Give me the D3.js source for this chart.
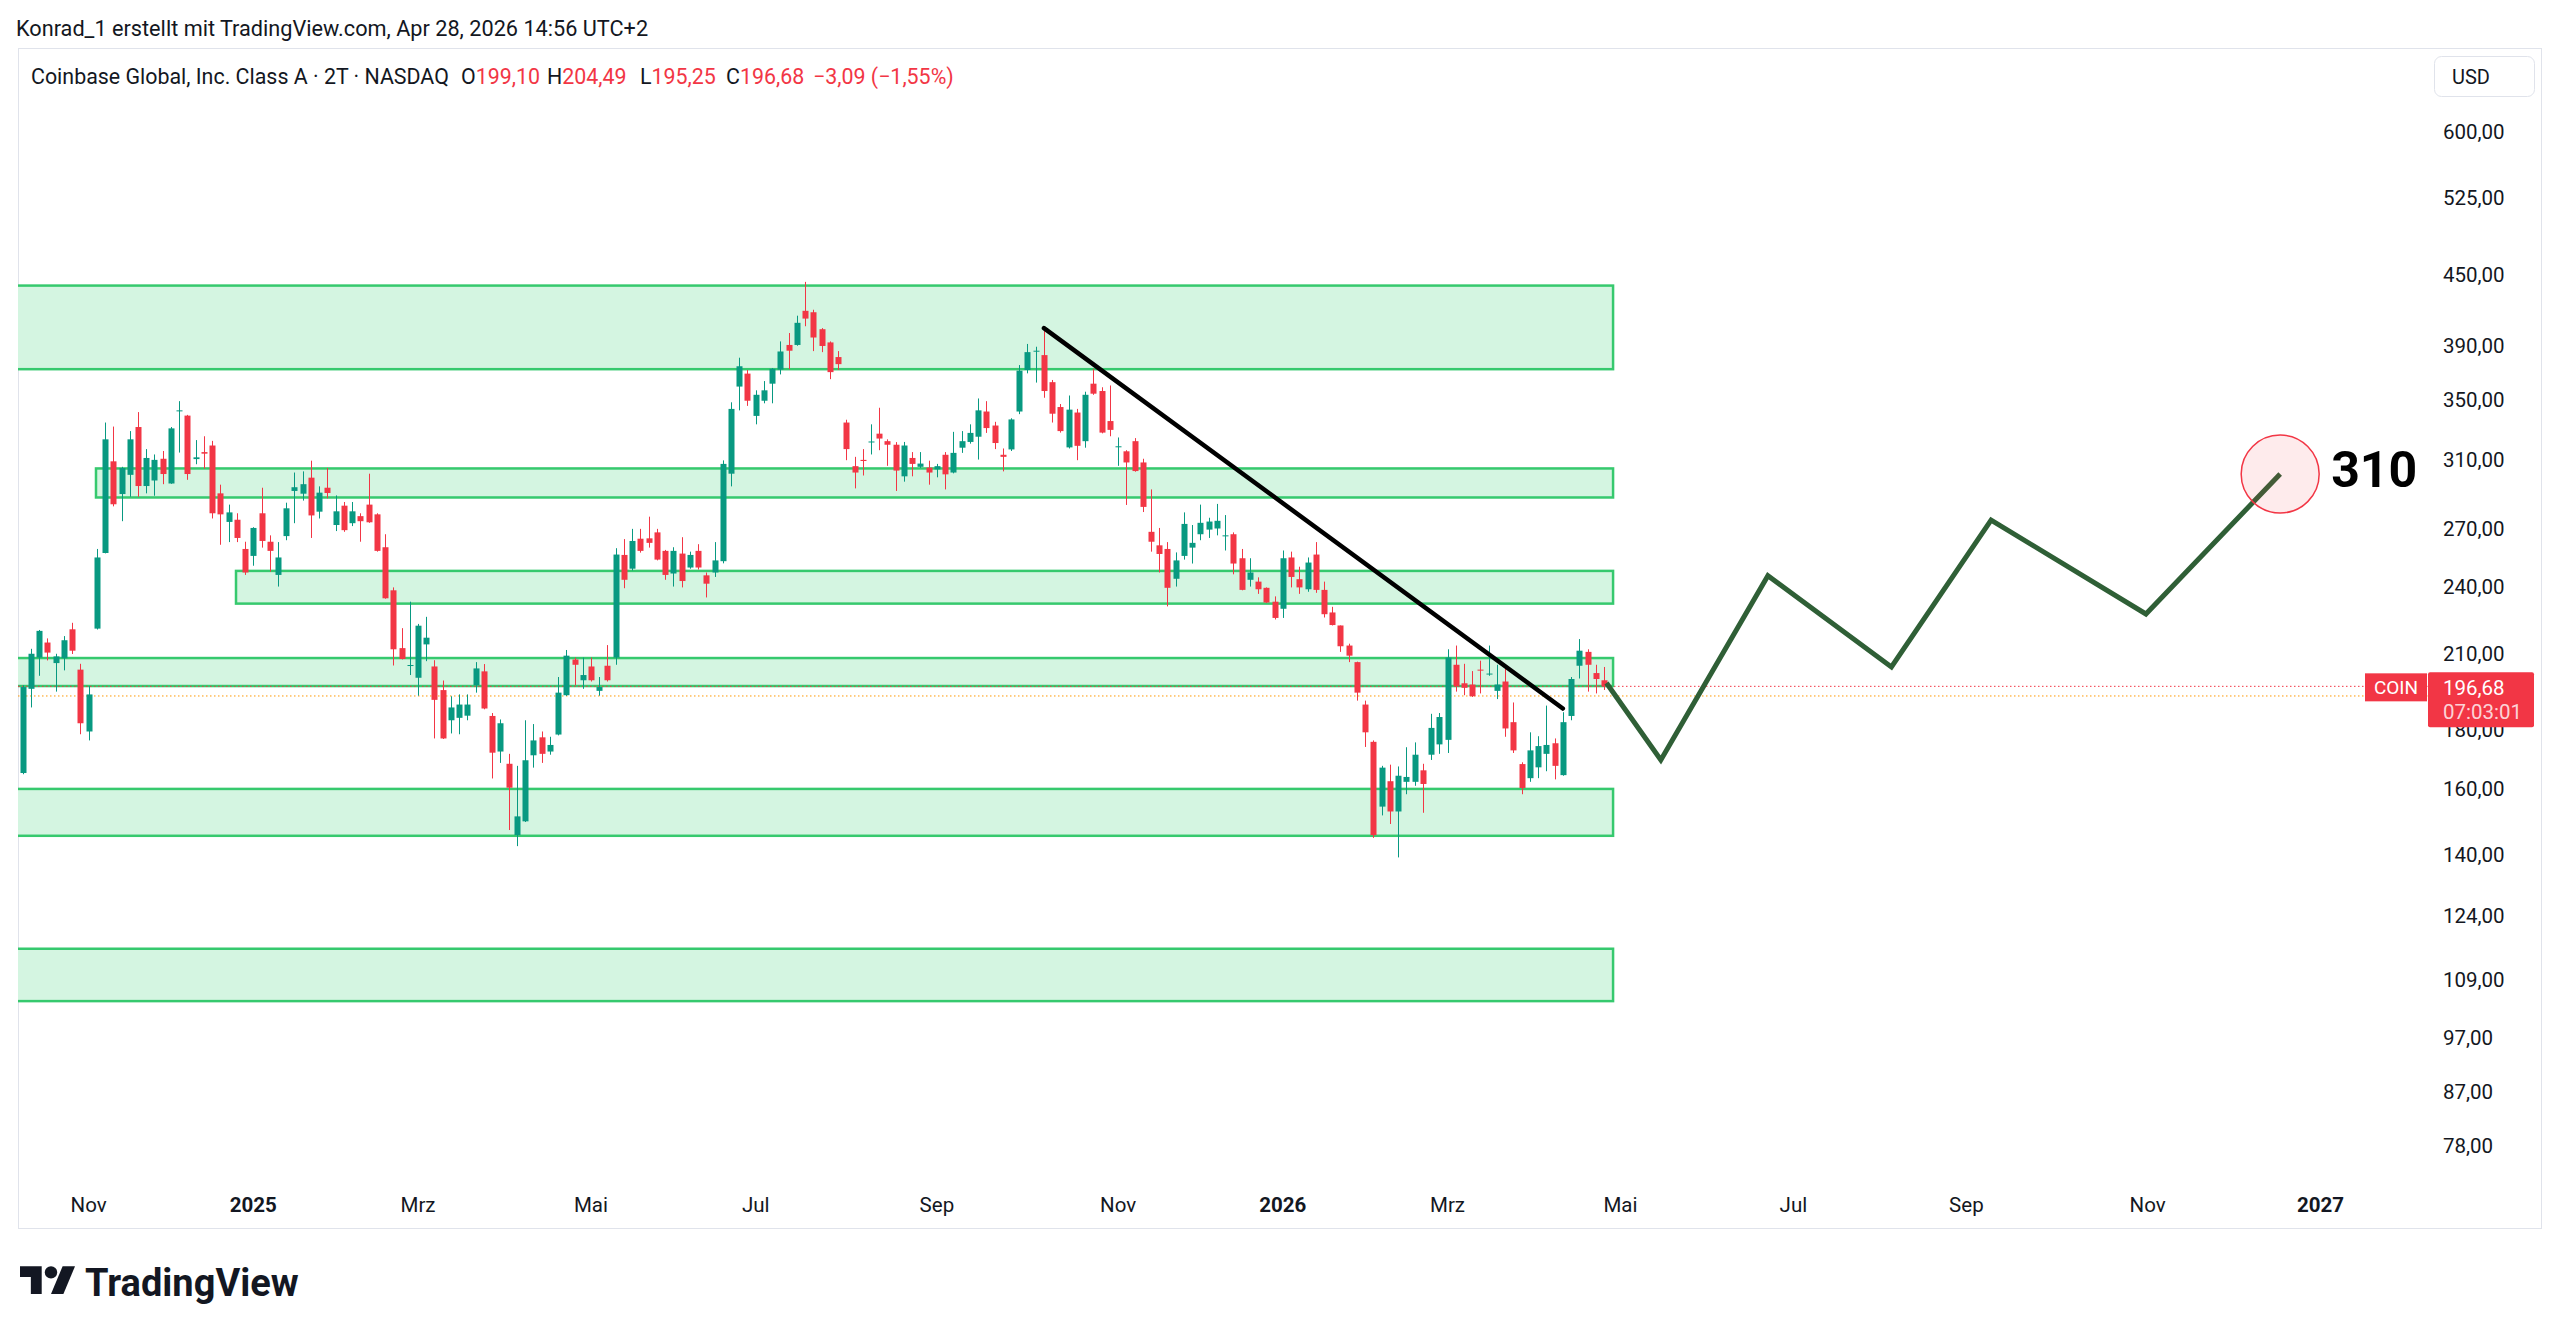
<!DOCTYPE html>
<html>
<head>
<meta charset="utf-8">
<script src="https://cdn.jsdelivr.net/npm/d3@7"></script>
<style>
  html, body { margin: 0; padding: 0; background: #ffffff; }
  svg { display: block; font-family: Roboto, 'Noto Sans', sans-serif; }
</style>
</head>
<body>
<svg id="chart" width="2560" height="1335"></svg>
<script>
/* global d3 */
'use strict';

// COIN, 2-day bars (index 0 = first visible bar)
const opens = [
  165.2, 195.7, 208.4, 214.8, 206.1, 208.1, 220.6, 203.4, 179.6, 220.9,
  257.2, 309.3, 289.6, 301.0, 331.4, 294.3, 297.6, 310.9, 295.8, 342.2,
  339.1, 310.7, 315.1, 319.3, 290.0, 273.8, 275.0, 259.3, 255.7, 278.6,
  263.1, 246.1, 266.1, 291.4, 289.8, 299.3, 279.5, 293.3, 272.1, 282.9,
  273.1, 277.0, 283.5, 278.0, 260.2, 238.6, 212.4, 205.0, 200.1, 214.0,
  204.7, 195.2, 183.7, 184.6, 185.4, 197.1, 202.7, 185.3, 172.5, 168.3,
  145.8, 149.9, 171.2, 177.5, 172.5, 178.5, 193.2, 207.6, 199.1, 204.7,
  194.9, 205.0, 208.4, 256.2, 249.2, 264.7, 264.9, 268.1, 258.3, 246.8,
  256.9, 249.8, 258.3, 245.9, 247.3, 253.0, 301.7, 359.5, 369.0, 338.9,
  349.4, 361.6, 372.0, 390.9, 390.9, 418.7, 417.5, 403.5, 392.9, 381.5,
  334.4, 306.3, 310.2, 321.5, 327.0, 322.1, 319.8, 300.1, 311.4, 305.9,
  305.4, 304.3, 313.4, 302.4, 317.9, 321.6, 325.0, 341.9, 332.4, 313.4,
  316.8, 341.9, 371.7, 385.8, 383.0, 362.7, 345.0, 318.1, 341.2, 322.1,
  361.6, 356.3, 335.4, 318.4, 315.6, 322.1, 308.6, 268.4, 261.2, 259.3,
  244.2, 255.7, 260.0, 267.1, 269.6, 270.2, 266.1, 267.1, 254.5, 243.7,
  242.8, 239.8, 233.2, 229.9, 254.9, 244.0, 239.1, 256.4, 238.8, 228.2,
  222.3, 213.5, 206.5, 189.6, 175.9, 154.4, 162.5, 152.9, 162.3, 162.3,
  166.1, 171.4, 175.0, 176.6, 205.4, 197.9, 197.4, 203.4, 201.5, 194.9,
  198.6, 183.0, 168.2, 163.5, 167.1, 171.7, 175.4, 164.5, 185.3, 205.0,
  210.8, 202.0, 199.10
];
const highs = [
  197.1, 212.1, 220.3, 216.6, 210.0, 217.6, 223.5, 205.8, 196.8, 259.3,
  334.4, 331.7, 305.9, 328.7, 341.5, 317.0, 313.6, 315.8, 331.4, 349.1,
  339.6, 322.8, 325.3, 322.3, 295.1, 283.5, 278.6, 263.1, 270.9, 293.3,
  266.5, 262.9, 284.6, 302.4, 303.1, 309.7, 294.1, 305.2, 288.8, 285.0,
  285.0, 278.6, 301.7, 278.6, 267.1, 240.0, 221.1, 233.2, 223.0, 226.2,
  207.3, 199.0, 192.8, 193.5, 193.5, 206.5, 205.7, 186.4, 184.0, 171.7,
  167.6, 183.7, 182.3, 179.6, 177.7, 200.4, 211.6, 208.4, 208.4, 208.4,
  200.4, 213.7, 259.7, 264.5, 270.0, 270.0, 276.7, 270.0, 258.8, 260.2,
  265.5, 257.9, 261.8, 247.3, 262.9, 309.9, 348.3, 381.0, 371.7, 356.8,
  363.5, 373.2, 393.7, 400.4, 414.6, 443.8, 419.6, 404.4, 393.7, 386.1,
  336.3, 312.1, 317.0, 333.2, 344.5, 323.3, 321.5, 321.6, 315.1, 315.1,
  309.7, 307.7, 315.1, 328.2, 328.7, 333.2, 351.0, 349.1, 334.9, 317.4,
  337.3, 375.4, 391.7, 389.5, 404.4, 364.3, 347.1, 353.1, 343.7, 355.8,
  372.6, 359.0, 360.3, 324.5, 316.3, 324.1, 310.9, 292.3, 270.5, 262.9,
  257.5, 279.1, 272.1, 283.5, 276.1, 283.9, 277.6, 268.1, 259.3, 254.5,
  244.9, 240.0, 235.7, 258.5, 257.9, 250.2, 254.9, 262.9, 242.8, 230.8,
  222.3, 214.3, 206.7, 191.1, 176.4, 167.6, 168.0, 167.4, 174.0, 175.7,
  168.3, 186.1, 186.4, 211.9, 213.5, 205.8, 202.8, 207.1, 213.5, 205.4,
  204.2, 190.4, 168.8, 179.3, 177.9, 189.2, 177.1, 186.7, 200.4, 216.3,
  211.9, 205.4, 204.49
];
const lows = [
  164.8, 188.5, 200.9, 207.2, 194.6, 203.1, 209.9, 178.6, 176.4, 220.5,
  257.0, 282.5, 274.2, 288.0, 288.0, 290.0, 288.6, 295.4, 295.6, 314.8,
  298.0, 307.5, 304.7, 275.7, 261.5, 262.9, 262.9, 246.1, 250.7, 260.0,
  247.7, 240.4, 263.9, 273.1, 285.8, 265.1, 275.7, 287.1, 268.8, 268.4,
  271.5, 263.1, 273.3, 257.9, 234.6, 205.1, 207.6, 201.2, 193.0, 206.9,
  177.1, 176.9, 178.9, 178.6, 183.7, 194.2, 187.8, 163.4, 168.6, 147.3,
  142.6, 149.7, 167.0, 168.6, 171.4, 178.2, 192.9, 197.1, 195.7, 198.6,
  193.0, 198.6, 205.4, 239.6, 248.3, 257.4, 260.0, 253.4, 243.7, 240.4,
  240.0, 249.2, 248.8, 235.2, 245.1, 251.9, 294.1, 342.7, 345.8, 333.2,
  347.6, 347.6, 368.4, 372.3, 390.3, 405.9, 386.1, 385.3, 364.9, 371.7,
  310.0, 292.9, 300.6, 313.6, 316.3, 306.5, 291.4, 296.9, 300.1, 305.2,
  295.1, 299.5, 292.3, 301.9, 314.6, 320.5, 310.4, 327.5, 317.0, 303.1,
  315.8, 340.1, 369.2, 362.4, 351.5, 334.4, 327.7, 317.4, 310.0, 317.9,
  353.6, 327.2, 325.3, 306.5, 283.3, 302.9, 279.3, 257.9, 247.3, 231.0,
  240.4, 253.8, 251.8, 263.9, 265.1, 266.5, 258.5, 246.4, 238.6, 240.4,
  236.9, 232.6, 225.0, 225.7, 240.0, 236.9, 237.9, 237.4, 225.9, 222.3,
  210.8, 206.5, 191.1, 174.1, 145.0, 151.7, 149.1, 139.4, 158.3, 161.0,
  152.5, 169.6, 171.7, 172.0, 194.6, 193.2, 192.5, 193.9, 200.9, 191.7,
  177.7, 172.0, 158.3, 162.3, 163.5, 165.8, 163.1, 164.3, 183.7, 199.8,
  194.6, 193.9, 195.25
];
const closes = [
  196.4, 210.0, 219.9, 210.5, 208.9, 215.8, 211.3, 182.6, 193.5, 254.9,
  323.3, 283.7, 305.2, 323.3, 294.3, 311.4, 310.2, 301.5, 330.5, 342.7,
  301.5, 311.8, 314.1, 278.6, 278.0, 279.1, 265.1, 247.3, 270.5, 263.5,
  258.3, 254.9, 281.4, 293.6, 295.4, 277.4, 290.4, 290.2, 279.7, 269.3,
  279.7, 274.2, 273.6, 258.3, 234.8, 211.9, 207.8, 205.3, 222.2, 216.9,
  191.4, 177.1, 188.5, 189.6, 189.6, 203.9, 188.1, 172.1, 182.6, 160.4,
  151.4, 169.5, 176.4, 171.7, 174.8, 194.2, 209.2, 205.4, 201.2, 199.1,
  196.4, 199.1, 256.4, 243.7, 263.5, 258.3, 262.5, 253.8, 246.1, 258.3,
  243.1, 256.2, 249.8, 241.8, 253.4, 307.7, 343.7, 374.5, 349.4, 353.6,
  356.8, 372.6, 385.8, 386.4, 408.7, 412.2, 396.8, 390.1, 370.1, 376.1,
  317.0, 302.4, 309.5, 321.9, 323.8, 319.8, 303.6, 319.3, 307.7, 307.9,
  302.4, 306.3, 301.3, 314.6, 322.1, 327.5, 342.7, 330.7, 320.9, 312.1,
  336.5, 371.2, 385.3, 386.4, 356.3, 340.4, 328.7, 343.2, 319.1, 353.6,
  354.4, 327.7, 329.5, 318.8, 308.6, 303.3, 282.2, 263.1, 256.7, 239.8,
  253.4, 272.7, 262.5, 273.3, 274.0, 274.4, 266.5, 251.8, 238.8, 247.3,
  239.1, 232.8, 225.7, 254.5, 245.1, 240.0, 252.3, 238.8, 227.4, 222.5,
  213.2, 209.2, 194.2, 179.3, 145.8, 167.0, 152.9, 164.3, 163.9, 171.4,
  161.6, 180.9, 184.9, 208.4, 196.8, 196.1, 192.8, 203.0, 201.8, 197.4,
  180.7, 172.9, 160.3, 172.9, 174.4, 174.8, 167.6, 183.0, 199.6, 211.3,
  205.4, 199.6, 196.68
];

// price scale labels
const priceTicks = [600, 525, 450, 390, 350, 310, 270, 240, 210, 180, 160, 140, 124, 109, 97, 87, 78];

// time scale: bar index where each label sits
const monthTickBars = [8, 28, 48, 69, 89, 111, 133, 153, 173, 194, 215, 236, 258, 279];
const monthTickLabels = ['Nov', '2025', 'Mrz', 'Mai', 'Jul', 'Sep', 'Nov', '2026', 'Mrz', 'Mai', 'Jul', 'Sep', 'Nov', '2027'];

// support / resistance boxes (bar index from-to, price low-high)
const zoneFrom = [-10, 8.9, 25.9, -10, -10, -10];
const zoneTo = [193.1, 193.1, 193.1, 193.1, 193.1, 193.1];
const zoneLow = [372.3, 287.6, 232.3, 196.8, 145.6, 104.4];
const zoneHigh = [440.5, 304.9, 248.1, 208.2, 160.0, 116.0];

// falling trend line
const trendBars = [124, 187];
const trendPrices = [404.4, 188.1];

// hand-drawn projection path
const projBars = [192.3, 198.9, 211.9, 226.9, 239.0, 257.8, 274.1];
const projPrices = [198.0, 169.6, 245.7, 204.5, 274.8, 227.5, 301.5];
const targetLabel = '310';

// last price info
const lastPrice = 196.68;
const extPrice = 192.9;
const countdown = '07:03:01';
const changeText = '−3,09 (−1,55%)';

// ---------------------------------------------------------------
const green = '#089981';
const red = '#f23645';
const textColor = '#131722';
const fmt = (v) => d3.format('.2f')(v).replace('.', ',');

const svg = d3.select('#chart');
const pane = { left: 18, right: 2436, top: 49, bottom: 1175 };

// x and y scale
const xScale = d3.scaleLinear().domain([0, 192]).range([22.7, 1604]);
const yScale = d3.scaleLog().domain([600, 78]).range([132, 1146]);

svg.append('rect').attr('width', 2560).attr('height', 1335).attr('fill', '#ffffff');

// outer frame
svg.append('rect')
  .attr('x', 18.5).attr('y', 48.5)
  .attr('width', 2523).attr('height', 1180)
  .attr('fill', 'none')
  .attr('stroke', '#e0e3eb')
  .attr('stroke-width', 1);

svg.append('defs').append('clipPath').attr('id', 'pane-clip')
  .append('rect')
  .attr('x', pane.left).attr('y', pane.top)
  .attr('width', pane.right - pane.left).attr('height', pane.bottom - pane.top);

const g = svg.append('g').attr('clip-path', 'url(#pane-clip)');

// zones
g.selectAll('.zone')
  .data(zoneLow)
  .enter()
  .append('rect')
  .attr('class', 'zone')
  .attr('x', (d, i) => xScale(zoneFrom[i]))
  .attr('width', (d, i) => xScale(zoneTo[i]) - xScale(zoneFrom[i]))
  .attr('y', (d, i) => yScale(zoneHigh[i]))
  .attr('height', (d, i) => yScale(zoneLow[i]) - yScale(zoneHigh[i]))
  .attr('fill', '#d4f5e1')
  .attr('stroke', '#36c96e')
  .attr('stroke-width', 2.5);

// last price / extended price dotted lines
g.append('line')
  .attr('x1', pane.left).attr('x2', pane.right)
  .attr('y1', yScale(extPrice)).attr('y2', yScale(extPrice))
  .attr('stroke', '#ff9800')
  .attr('stroke-width', 1)
  .attr('stroke-dasharray', '1.5 2.5');
g.append('line')
  .attr('x1', pane.left).attr('x2', pane.right)
  .attr('y1', yScale(lastPrice)).attr('y2', yScale(lastPrice))
  .attr('stroke', red)
  .attr('stroke-width', 1)
  .attr('stroke-dasharray', '1.5 2.5');

// candles
const bars = d3.range(opens.length);
const candle = g.selectAll('.candle')
  .data(bars)
  .enter()
  .append('g')
  .attr('class', 'candle')
  .attr('fill', (i) => (closes[i] >= opens[i] ? green : red))
  .attr('stroke', (i) => (closes[i] >= opens[i] ? green : red));

candle.append('line')
  .attr('x1', (i) => Math.round(xScale(i)) + 0.5)
  .attr('x2', (i) => Math.round(xScale(i)) + 0.5)
  .attr('y1', (i) => yScale(highs[i]))
  .attr('y2', (i) => yScale(lows[i]))
  .attr('stroke-width', 1);

candle.append('rect')
  .attr('x', (i) => Math.round(xScale(i)) - 2.5)
  .attr('width', 6)
  .attr('y', (i) => yScale(Math.max(opens[i], closes[i])))
  .attr('height', (i) => Math.max(1, yScale(Math.min(opens[i], closes[i])) - yScale(Math.max(opens[i], closes[i]))))
  .attr('stroke', 'none');

// trend line
g.append('line')
  .attr('x1', xScale(trendBars[0])).attr('y1', yScale(trendPrices[0]))
  .attr('x2', xScale(trendBars[1])).attr('y2', yScale(trendPrices[1]))
  .attr('stroke', '#000000')
  .attr('stroke-width', 4.5)
  .attr('stroke-linecap', 'round');

// projection path
const line = d3.line()
  .x((d, i) => xScale(projBars[i]))
  .y((d) => yScale(d));

g.append('path')
  .attr('d', line(projPrices))
  .attr('fill', 'none')
  .attr('stroke', '#2f5f36')
  .attr('stroke-width', 5)
  .attr('stroke-linejoin', 'miter');

// target circle and label
const last = projPrices.length - 1;
g.append('circle')
  .attr('cx', xScale(projBars[last]))
  .attr('cy', yScale(projPrices[last]))
  .attr('r', 39)
  .attr('fill', 'rgba(242, 54, 69, 0.1)')
  .attr('stroke', red)
  .attr('stroke-width', 1.5);

g.append('text')
  .attr('x', xScale(projBars[last]) + 51)
  .attr('y', yScale(projPrices[last]) - 4)
  .attr('dominant-baseline', 'central')
  .attr('font-size', 50)
  .attr('font-weight', 700)
  .attr('fill', '#000000')
  .text(targetLabel);

// price axis
svg.append('g')
  .selectAll('text')
  .data(priceTicks)
  .enter()
  .append('text')
  .attr('x', 2443)
  .attr('y', (d) => yScale(d))
  .attr('dominant-baseline', 'central')
  .attr('font-size', 20.5)
  .attr('fill', textColor)
  .text((d) => fmt(d));

// USD button
svg.append('rect')
  .attr('x', 2434.5).attr('y', 56.5)
  .attr('width', 100).attr('height', 40).attr('rx', 7)
  .attr('fill', '#ffffff')
  .attr('stroke', '#e0e3eb');
svg.append('text')
  .attr('x', 2452).attr('y', 77)
  .attr('dominant-baseline', 'central')
  .attr('font-size', 20)
  .attr('fill', textColor)
  .text('USD');

// last price labels
const yLast = yScale(lastPrice);
svg.append('rect')
  .attr('x', 2365).attr('y', yLast - 13)
  .attr('width', 62).attr('height', 28)
  .attr('fill', red);
svg.append('text')
  .attr('x', 2396).attr('y', yLast + 1)
  .attr('text-anchor', 'middle')
  .attr('dominant-baseline', 'central')
  .attr('font-size', 19)
  .attr('fill', '#ffffff')
  .text('COIN');
svg.append('rect')
  .attr('x', 2428).attr('y', yLast - 14)
  .attr('width', 106).attr('height', 55).attr('rx', 2)
  .attr('fill', red);
svg.append('text')
  .attr('x', 2443).attr('y', yLast + 2)
  .attr('dominant-baseline', 'central')
  .attr('font-size', 20.5)
  .attr('fill', '#ffffff')
  .text(fmt(lastPrice));
svg.append('text')
  .attr('x', 2443).attr('y', yLast + 26)
  .attr('dominant-baseline', 'central')
  .attr('font-size', 20.5)
  .attr('fill', 'rgba(255,255,255,0.8)')
  .text(countdown);

// time axis
svg.append('g')
  .selectAll('text')
  .data(monthTickBars)
  .enter()
  .append('text')
  .attr('x', (d) => xScale(d))
  .attr('y', 1205)
  .attr('text-anchor', 'middle')
  .attr('dominant-baseline', 'central')
  .attr('font-size', 20.5)
  .attr('font-weight', (d, i) => (/^\d+$/.test(monthTickLabels[i]) ? 700 : 400))
  .attr('fill', textColor)
  .text((d, i) => monthTickLabels[i]);

// header
svg.append('text')
  .attr('x', 16).attr('y', 28)
  .attr('dominant-baseline', 'central')
  .attr('font-size', 21.7)
  .attr('fill', textColor)
  .text('Konrad_1 erstellt mit TradingView.com, Apr 28, 2026 14:56 UTC+2');

// legend
const legendY = 76;
const n = opens.length - 1;
const legendParts = [
  { x: 31, label: 'Coinbase Global, Inc. Class A · 2T · NASDAQ', value: '' },
  { x: 461, label: 'O', value: fmt(opens[n]) },
  { x: 547, label: 'H', value: fmt(highs[n]) },
  { x: 640, label: 'L', value: fmt(lows[n]) },
  { x: 726, label: 'C', value: fmt(closes[n]) },
];
legendParts.forEach(function(p) {
  const t = svg.append('text')
    .attr('x', p.x).attr('y', legendY)
    .attr('dominant-baseline', 'central')
    .attr('font-size', 21.4);
  t.append('tspan').attr('fill', textColor).text(p.label);
  t.append('tspan').attr('fill', red).text(p.value);
});
svg.append('text')
  .attr('x', 813).attr('y', legendY)
  .attr('dominant-baseline', 'central')
  .attr('font-size', 21.4)
  .attr('fill', red)
  .text(changeText);

// TradingView logo
const logo = svg.append('g').attr('transform', 'translate(20, 1260) scale(1.55)').attr('fill', textColor);
logo.append('path').attr('d', 'M14 22H7V11H0V4h14v18z');
logo.append('path').attr('d', 'M28 22h-8l7.5-18h8L28 22z');
logo.append('circle').attr('cx', 20).attr('cy', 8).attr('r', 4);
svg.append('text')
  .attr('x', 85).attr('y', 1283)
  .attr('dominant-baseline', 'central')
  .attr('font-size', 38)
  .attr('font-weight', 700)
  .attr('fill', textColor)
  .text('TradingView');
</script>
</body>
</html>
